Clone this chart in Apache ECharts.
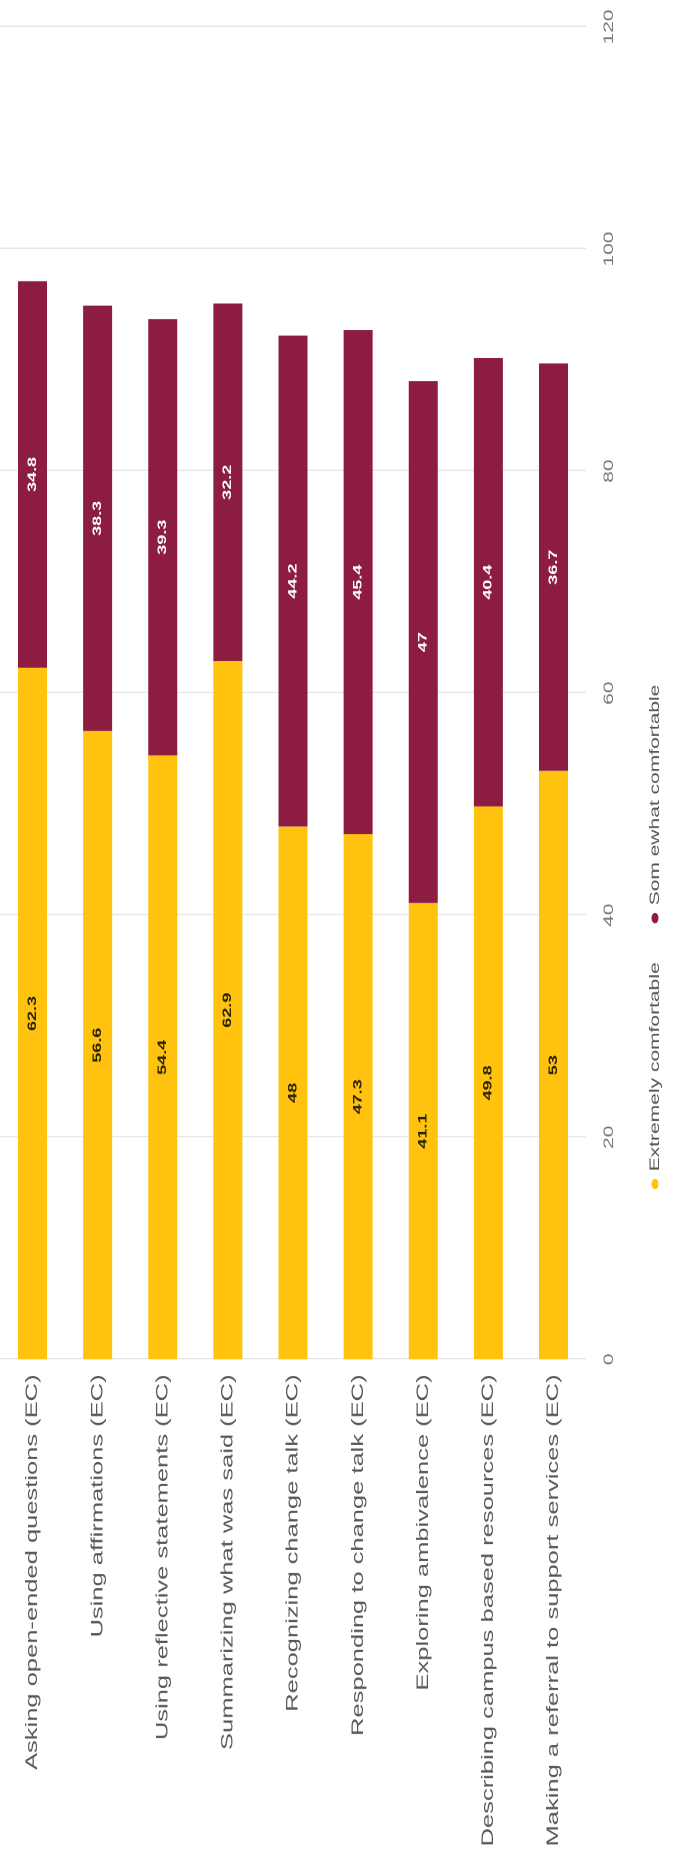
<!DOCTYPE html>
<html>
<head>
<meta charset="utf-8">
<script src="https://cdn.jsdelivr.net/npm/echarts@6/dist/echarts.min.js"></script>
<style>
html,body{margin:0;padding:0;background:#fff;width:673px;height:1874px;overflow:hidden;}
#wrap{position:absolute;left:0;top:0;width:1249px;height:673px;transform-origin:0 0;
transform:translate(0px,1874px) rotate(-90deg) scale(1.5004,1);}
#chart{width:1249px;height:673px;}
</style>
</head>
<body>
<div id="wrap"><div id="chart"></div></div>
<script>
const categories = [
  "Asking open-ended questions (EC)",
  "Using affirmations (EC)",
  "Using reflective statements (EC)",
  "Summarizing what was said (EC)",
  "Recognizing change talk (EC)",
  "Responding to change talk (EC)",
  "Exploring ambivalence (EC)",
  "Describing campus based resources (EC)",
  "Making a referral to support services (EC)"
];
const extremelyComfortable = [62.3, 56.6, 54.4, 62.9, 48, 47.3, 41.1, 49.8, 53];
const somewhatComfortable = [34.8, 38.3, 39.3, 32.2, 44.2, 45.4, 47, 40.4, 36.7];
const seriesNames = ["Extremely comfortable", "Som ewhat comfortable"];

const chart = echarts.init(document.getElementById('chart'), null, {devicePixelRatio: 2});
chart.setOption({
  animation: false,
  backgroundColor: '#ffffff',
  legend: {
    bottom: 6,
    left: 'center',
    icon: 'circle',
    itemWidth: 7,
    itemHeight: 7,
    itemGap: 26,
    textStyle: {fontFamily: 'Liberation Sans, Arial, sans-serif', fontSize: 14, color: '#555'},
    data: seriesNames
  },
  grid: {left: 343, right: 18, top: -5, bottom: 87, containLabel: false},
  xAxis: {
    type: 'value', min: 0, max: 120, interval: 20, position: 'bottom',
    axisLine: {show: false}, axisTick: {show: false},
    axisLabel: {color: '#777', fontSize: 14, margin: 16, fontFamily: 'Liberation Sans, Arial, sans-serif'},
    splitLine: {show: true, lineStyle: {color: '#e6e6e6', width: 1}}
  },
  yAxis: {
    type: 'category', inverse: true, data: categories,
    axisLine: {show: false}, axisTick: {show: false},
    axisLabel: {color: '#595959', fontSize: 17, margin: 10, fontFamily: 'Liberation Sans, Arial, sans-serif'}
  },
  series: [
    {
      name: seriesNames[0], type: 'bar', stack: 'total', data: extremelyComfortable,
      barWidth: 29,
      itemStyle: {color: '#FFC20E'},
      label: {show: true, position: 'inside', color: '#2a2200', fontWeight: 'bold', fontSize: 12,
        fontFamily: 'Liberation Sans, Arial, sans-serif'}
    },
    {
      name: seriesNames[1], type: 'bar', stack: 'total', data: somewhatComfortable,
      barWidth: 29,
      itemStyle: {color: '#8C1D40'},
      label: {show: true, position: 'inside', color: '#ffffff', fontWeight: 'bold', fontSize: 12,
        fontFamily: 'Liberation Sans, Arial, sans-serif'}
    }
  ]
});
</script>
</body>
</html>
